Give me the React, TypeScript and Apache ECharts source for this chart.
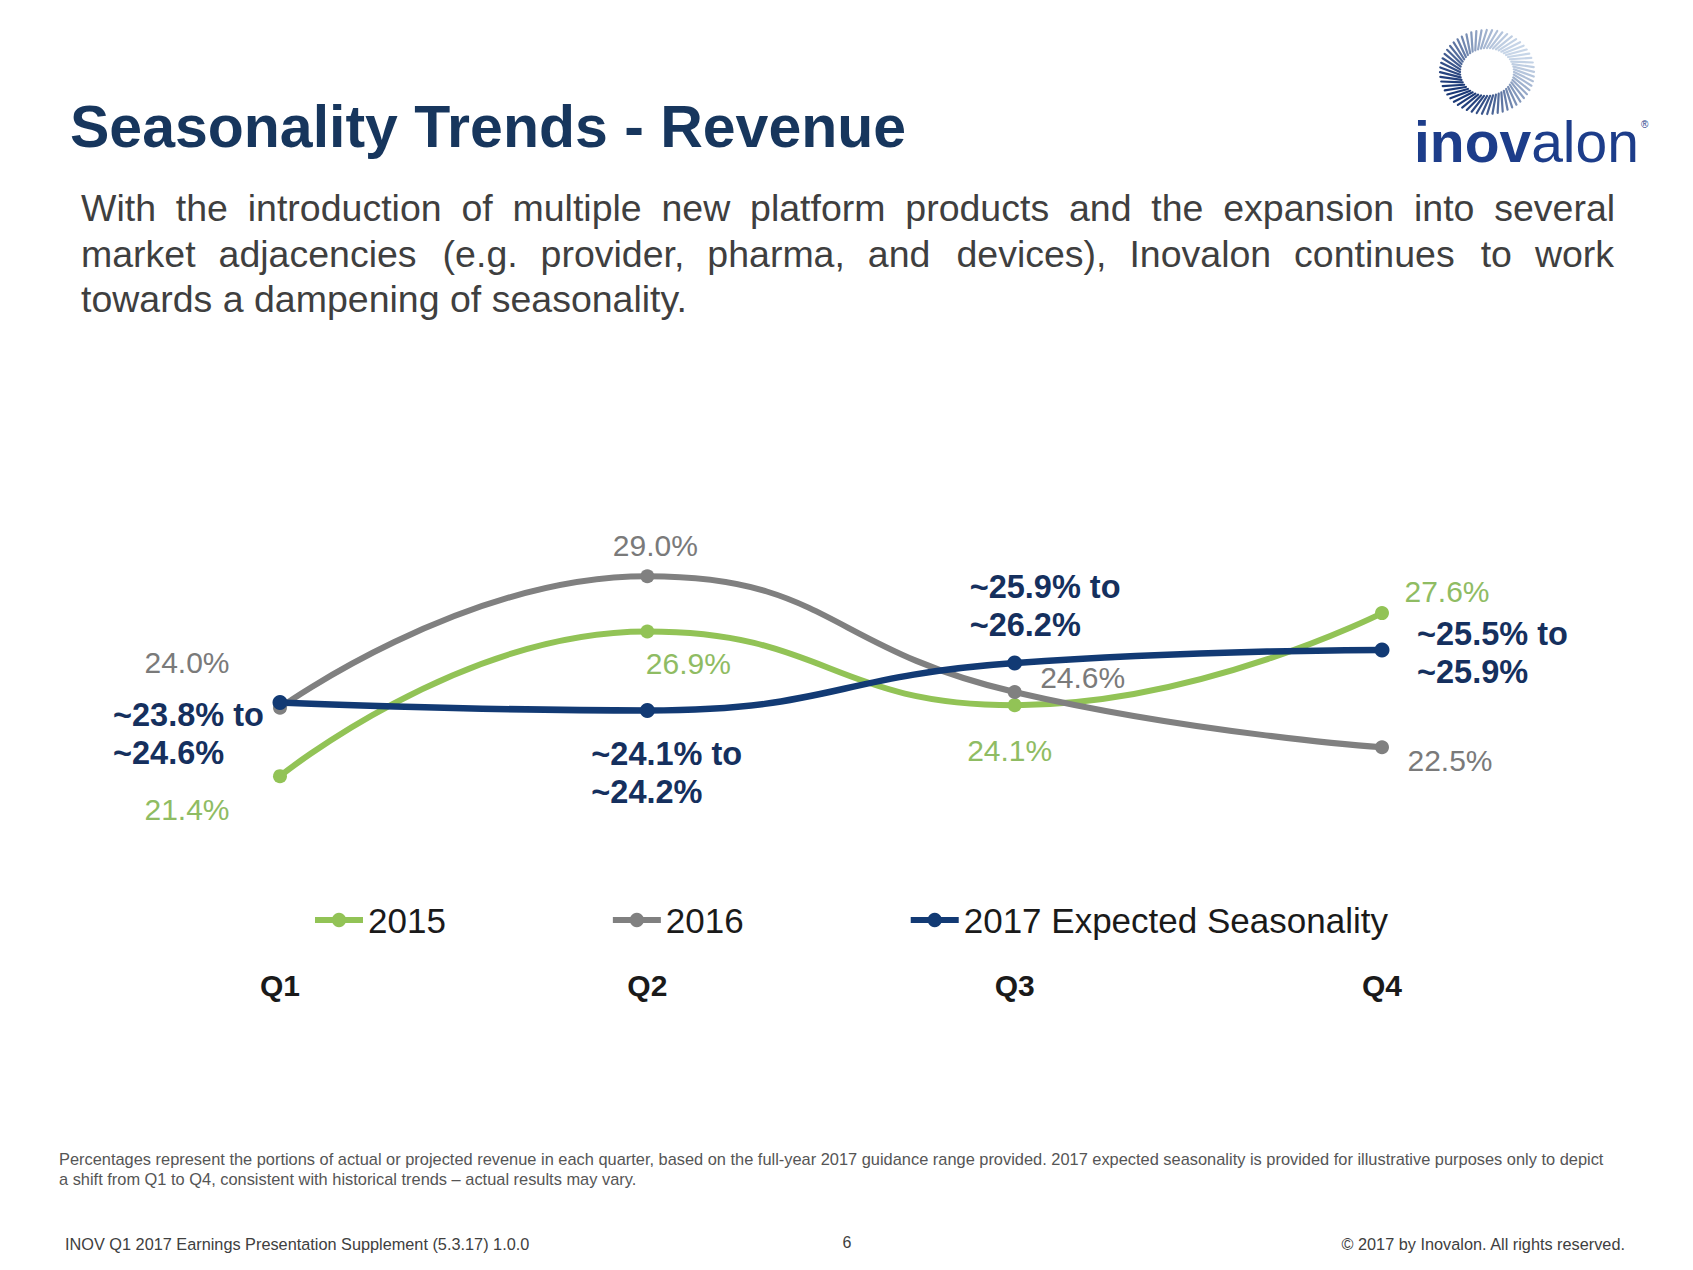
import React, { useEffect, useRef } from "react";
import * as echarts from "echarts";

// ---------- data ----------
const quarters = ["Q1", "Q2", "Q3", "Q4"];
const seriesNames = ["2015", "2016", "2017 Expected Seasonality"];
const values2015 = [21.4, 26.9, 24.1, 27.6];
const values2016 = [24.0, 29.0, 24.6, 22.5];
// plotted positions of the 2017 expected line
const values2017 = [24.2, 23.9, 25.7, 26.2];
const labels2017 = [
  "~23.8% to\n~24.6%",
  "~24.1% to\n~24.2%",
  "~25.9% to\n~26.2%",
  "~25.5% to\n~25.9%",
];

const titleText = "Seasonality Trends - Revenue";
const bodyLines = [
  "With the introduction of multiple new platform products and the expansion into several",
  "market adjacencies (e.g. provider, pharma, and devices), Inovalon continues to work",
  "towards a dampening of seasonality.",
];
const footnoteLines = [
  "Percentages represent the portions of actual or projected revenue in each quarter, based on the full-year 2017 guidance range provided. 2017 expected seasonality is provided for illustrative purposes only to depict",
  "a shift from Q1 to Q4, consistent with historical trends – actual results may vary.",
];
const footerLeft = "INOV Q1 2017 Earnings Presentation Supplement (5.3.17) 1.0.0";
const footerPage = "6";
const footerRight = "© 2017 by Inovalon. All rights reserved.";

// ---------- layout (label offsets from each point) ----------
const offsets2015: [number, number][] = [[-93, 33], [41, 32], [-5, 45], [65, -22]];
const offsets2016: [number, number][] = [[-93, -45], [8, -31], [68, -15], [68, 13]];
const offsets2017: [number, number][] = [[-167, 31], [-56, 63], [-45, -57], [35, 3]];

const FONT = '"Liberation Sans", Arial, Helvetica, sans-serif';
const GREEN = "#92c356";
const GREEN_TXT = "#8fbc63";
const GRAY = "#808080";
const GRAY_TXT = "#7a7a7a";
const NAVY = "#123a74";
const NAVY_TXT = "#15305e";

function pctLabel(v: number) {
  return v.toFixed(1) + "%";
}

// justify a line to a target width using fine unicode spaces
function justify(line: string, size: number, target: number) {
  const canvas = document.createElement("canvas");
  const ctx = canvas.getContext("2d");
  if (!ctx) return line;
  ctx.font = `${size}px "Liberation Sans", Arial, sans-serif`;
  const natural = ctx.measureText(line).width;
  const words = line.split(" ");
  const gaps = words.length - 1;
  if (gaps <= 0 || natural >= target) return line;
  const perGap = (target - natural) / gaps;
  const cands = ["\u2005", "\u2006", "\u2009", "\u200A"]
    .map((c) => ({ c, w: ctx.measureText(c).width }))
    .filter((o) => o.w > 0.5)
    .sort((a, b) => b.w - a.w);
  if (!cands.length) return line;
  let out = words[0];
  let carry = 0;
  for (let i = 1; i < words.length; i++) {
    let need = perGap + carry;
    let gap = " ";
    for (const o of cands) {
      while (need >= o.w * 0.75 && need > 0.4) {
        gap += o.c;
        need -= o.w;
      }
    }
    carry = need;
    out += gap + words[i];
  }
  return out;
}

function buildLogoRays() {
  const els: any[] = [];
  const cx = 1487, cy = 72;
  const N = 56;
  const dark = [26, 56, 118];
  const light = [200, 214, 232];
  for (let i = 0; i < N; i++) {
    const th = (i / N) * Math.PI * 2;
    const th2 = th + 0.22;
    const t = (1 + Math.cos(th - (3 * Math.PI) / 4)) / 2;
    const c = dark.map((d, k) => Math.round(light[k] + (d - light[k]) * t));
    els.push({
      type: "line",
      shape: {
        x1: cx + 27 * Math.cos(th),
        y1: cy + 24 * Math.sin(th),
        x2: cx + 47 * Math.cos(th2),
        y2: cy + 42 * Math.sin(th2),
      },
      style: { stroke: `rgb(${c[0]},${c[1]},${c[2]})`, lineWidth: 2.2, lineCap: "round" },
      silent: true,
    });
  }
  return els;
}

function txt(text: string, x: number, y: number, size: number, fill: string, opts: any = {}) {
  return {
    type: "text",
    x,
    y,
    silent: true,
    style: {
      text,
      fill,
      fontSize: size,
      fontFamily: FONT,
      fontWeight: opts.weight || "normal",
      align: opts.align || "left",
      verticalAlign: "middle",
      textAlign: opts.align || "left",
      textVerticalAlign: "middle",
    },
  };
}

export default function App() {
  const ref = useRef<HTMLDivElement>(null);

  useEffect(() => {
    if (!ref.current) return;
    const chart = echarts.init(ref.current, null, { renderer: "svg" });

    const plainLabel = (off: [number, number], color: string, fmt: string) => ({
      show: true,
      position: "inside",
      offset: off,
      align: "center",
      verticalAlign: "middle",
      color,
      fontSize: 30,
      fontFamily: FONT,
      formatter: fmt,
    });

    const BODY = 37.5;
    const option: any = {
      animation: false,
      backgroundColor: "#ffffff",
      grid: { left: 280, right: 311, top: 550, bottom: 457, containLabel: false },
      legend: {
        data: seriesNames,
        left: 307,
        top: 895,
        itemGap: 164,
        itemWidth: 48,
        itemHeight: 18,
        lineStyle: { width: 6 },
        textStyle: { fontSize: 35, color: "#1a1a1a", fontFamily: FONT, lineHeight: 40 },
        selectedMode: false,
      },
      xAxis: {
        type: "category",
        data: quarters,
        boundaryGap: false,
        axisLine: { show: false },
        axisTick: { show: false },
        splitLine: { show: false },
        axisLabel: {
          margin: 157,
          fontSize: 30,
          fontWeight: "bold",
          color: "#1a1a1a",
          fontFamily: FONT,
        },
      },
      yAxis: { type: "value", min: 20, max: 30, show: false, splitLine: { show: false } },
      series: [
        {
          name: seriesNames[0],
          type: "line",
          smooth: 0.5,
          symbol: "circle",
          symbolSize: 14,
          lineStyle: { width: 6, color: GREEN },
          itemStyle: { color: GREEN },
          data: values2015.map((v, i) => ({
            value: v,
            label: plainLabel(offsets2015[i], GREEN_TXT, pctLabel(v)),
          })),
        },
        {
          name: seriesNames[1],
          type: "line",
          smooth: 0.5,
          symbol: "circle",
          symbolSize: 14,
          lineStyle: { width: 6, color: GRAY },
          itemStyle: { color: GRAY },
          data: values2016.map((v, i) => ({
            value: v,
            label: plainLabel(offsets2016[i], GRAY_TXT, pctLabel(v)),
          })),
        },
        {
          name: seriesNames[2],
          type: "line",
          smooth: 0.5,
          symbol: "circle",
          symbolSize: 15,
          lineStyle: { width: 6.5, color: NAVY },
          itemStyle: { color: NAVY },
          data: values2017.map((v, i) => ({
            value: v,
            label: {
              show: true,
              position: "inside",
              offset: offsets2017[i],
              align: "left",
              verticalAlign: "middle",
              color: NAVY_TXT,
              fontSize: 32.5,
              fontWeight: "bold",
              lineHeight: 38,
              fontFamily: FONT,
              formatter: labels2017[i],
            },
          })),
        },
      ],
      graphic: [
        txt(titleText, 70, 127, 59, "#17365d", { weight: "bold" }),
        txt(justify(bodyLines[0], BODY, 1533), 81, 208, BODY, "#3f3f3f"),
        txt(justify(bodyLines[1], BODY, 1533), 81, 254, BODY, "#3f3f3f"),
        txt(bodyLines[2], 81, 299, BODY, "#3f3f3f"),
        ...buildLogoRays(),
        {
          type: "text",
          x: 1414,
          y: 142,
          silent: true,
          style: {
            text: "{a|inov}{b|alon}",
            verticalAlign: "middle",
            textVerticalAlign: "middle",
            rich: {
              a: { fontSize: 57, fontWeight: "bold", fontFamily: FONT, fill: "#1d3d8a", color: "#1d3d8a" },
              b: { fontSize: 57, fontWeight: "normal", fontFamily: FONT, fill: "#1d3d8a", color: "#1d3d8a" },
            },
          },
        },
        txt("®", 1641, 124, 10, "#1d3d8a"),
        txt(footnoteLines[0], 59, 1159, 16.4, "#555555"),
        txt(footnoteLines[1], 59, 1179, 16.4, "#555555"),
        txt(footerLeft, 65, 1244, 16.3, "#404040"),
        txt(footerPage, 847, 1242, 16, "#404040", { align: "center" }),
        txt(footerRight, 1625, 1244, 16.3, "#404040", { align: "right" }),
      ],
    };

    chart.setOption(option);
    return () => chart.dispose();
  }, []);

  return (
    <div
      ref={ref}
      style={{ position: "fixed", left: 0, top: 0, width: 1693, height: 1270, background: "#fff" }}
    />
  );
}
